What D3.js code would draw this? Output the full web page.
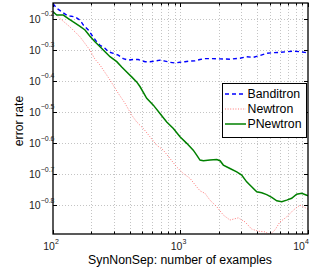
<!DOCTYPE html>
<html>
<head>
<meta charset="utf-8">
<script src="https://cdn.jsdelivr.net/npm/d3@7"></script>
<style>
  body { margin: 0; background: #fff; }
  svg { font-family: "Liberation Sans", Arial, sans-serif; display: block; }
</style>
</head>
<body>
<div id="chart"></div>
<script>
(function() {

    var width = 314;
    var height = 267;

    // log10(number of examples) and log10(error rate)
    var banditronLogN = [2.000, 2.029, 2.068, 2.107, 2.133, 2.173, 2.212, 2.238, 2.277, 2.304, 2.343, 2.369, 2.408, 2.434, 2.473, 2.512, 2.551, 2.591, 2.630, 2.669, 2.722, 2.761, 2.800, 2.839, 2.878, 2.918, 2.957, 2.996, 3.035, 3.075, 3.114, 3.153, 3.192, 3.247, 3.310, 3.388, 3.467, 3.519, 3.571, 3.624, 3.676, 3.728, 3.780, 3.833, 3.885, 3.937, 3.976, 4.000];
    var banditronLogErr = [-0.151, -0.166, -0.177, -0.188, -0.191, -0.194, -0.204, -0.220, -0.236, -0.252, -0.274, -0.285, -0.295, -0.306, -0.311, -0.317, -0.328, -0.333, -0.331, -0.331, -0.338, -0.338, -0.336, -0.333, -0.336, -0.340, -0.342, -0.340, -0.338, -0.336, -0.335, -0.331, -0.328, -0.328, -0.329, -0.330, -0.327, -0.322, -0.324, -0.318, -0.311, -0.309, -0.308, -0.306, -0.304, -0.306, -0.308, -0.311];

    var newtronLogN = [2.000, 2.055, 2.133, 2.212, 2.290, 2.329, 2.369, 2.395, 2.447, 2.512, 2.565, 2.617, 2.656, 2.708, 2.761, 2.813, 2.865, 2.918, 2.970, 3.022, 3.075, 3.127, 3.153, 3.192, 3.231, 3.284, 3.336, 3.388, 3.453, 3.506, 3.558, 3.610, 3.663, 3.702, 3.741, 3.780, 3.833, 3.885, 3.937, 3.963, 4.000];
    var newtronLogErr = [-0.177, -0.199, -0.226, -0.258, -0.301, -0.330, -0.349, -0.365, -0.397, -0.440, -0.472, -0.510, -0.532, -0.553, -0.580, -0.607, -0.623, -0.650, -0.677, -0.698, -0.714, -0.741, -0.754, -0.762, -0.784, -0.805, -0.832, -0.848, -0.841, -0.854, -0.877, -0.884, -0.886, -0.895, -0.880, -0.854, -0.838, -0.816, -0.800, -0.805, -0.813];

    var pnewtronLogN = [2.000, 2.029, 2.081, 2.120, 2.159, 2.212, 2.251, 2.290, 2.329, 2.369, 2.408, 2.447, 2.500, 2.539, 2.578, 2.617, 2.656, 2.682, 2.735, 2.787, 2.839, 2.892, 2.944, 2.996, 3.049, 3.100, 3.127, 3.153, 3.179, 3.231, 3.284, 3.310, 3.336, 3.388, 3.441, 3.480, 3.519, 3.558, 3.598, 3.637, 3.676, 3.716, 3.755, 3.794, 3.833, 3.872, 3.911, 3.951, 3.990, 4.000];
    var pnewtronLogErr = [-0.177, -0.188, -0.188, -0.199, -0.210, -0.224, -0.236, -0.256, -0.274, -0.290, -0.306, -0.322, -0.338, -0.355, -0.371, -0.387, -0.403, -0.418, -0.456, -0.478, -0.505, -0.532, -0.553, -0.580, -0.601, -0.623, -0.639, -0.655, -0.657, -0.655, -0.653, -0.657, -0.671, -0.682, -0.693, -0.703, -0.725, -0.741, -0.757, -0.760, -0.766, -0.775, -0.786, -0.789, -0.784, -0.778, -0.765, -0.762, -0.768, -0.770];

    var seriesNames = ["Banditron", "Newtron", "PNewtron"];
    var xTickExps = [2, 3, 4];
    var yTickExps = [-0.2, -0.3, -0.4, -0.5, -0.6, -0.7, -0.8];
    var xLabel = "SynNonSep: number of examples";
    var yLabel = "error rate";

    var left = 53, right = 308, top = 3, bottom = 234;

    var x = d3.scaleLog().domain([100, 10000]).range([left, right]);
    var y = d3.scaleLog().domain([Math.pow(10, -0.893), Math.pow(10, -0.149)]).range([bottom, top]);

    function toPoints(logN, logErr) {
        return logN.map(function (d, i) {
            return [Math.pow(10, d), Math.pow(10, logErr[i])];
        });
    }

    var series = [
        {name: seriesNames[0], pts: toPoints(banditronLogN, banditronLogErr), color: "#0000ff", width: 1.4, dash: "4,3"},
        {name: seriesNames[1], pts: toPoints(newtronLogN, newtronLogErr), color: "#ff5555", width: 0.8, dash: "1,1.6"},
        {name: seriesNames[2], pts: toPoints(pnewtronLogN, pnewtronLogErr), color: "#008000", width: 1.5, dash: null}
    ];

    var svg = d3.select("#chart").append("svg")
        .attr("width", width)
        .attr("height", height);

    svg.append("rect").attr("width", width).attr("height", height).attr("fill", "#fff");

    svg.append("clipPath").attr("id", "clip")
        .append("rect")
        .attr("x", left).attr("y", top)
        .attr("width", right - left).attr("height", bottom - top);

    // grid
    var xGrid = [];
    [100, 1000].forEach(function (dec) {
        for (var k = 1; k < 10; k++) xGrid.push(dec * k);
    });
    xGrid.push(10000);

    var grid = svg.append("g").attr("stroke", "#aaa").attr("stroke-width", 0.7).attr("stroke-dasharray", "1,2");
    grid.selectAll(".vg").data(xGrid.slice(1, -1)).enter().append("line")
        .attr("x1", function (d) { return Math.round(x(d)) + 0.5; })
        .attr("x2", function (d) { return Math.round(x(d)) + 0.5; })
        .attr("y1", top).attr("y2", bottom);
    grid.selectAll(".hg").data(yTickExps).enter().append("line")
        .attr("x1", left).attr("x2", right)
        .attr("y1", function (d) { return Math.round(y(Math.pow(10, d))) + 0.5; })
        .attr("y2", function (d) { return Math.round(y(Math.pow(10, d))) + 0.5; });

    // tick marks
    var ticks = svg.append("g").attr("stroke", "#000").attr("stroke-width", 1);
    xGrid.forEach(function (d) {
        var major = [100, 1000, 10000].indexOf(d) >= 0;
        var len = major ? 4 : 2.5;
        var px = Math.round(x(d)) + 0.5;
        ticks.append("line").attr("x1", px).attr("x2", px).attr("y1", bottom).attr("y2", bottom - len);
        ticks.append("line").attr("x1", px).attr("x2", px).attr("y1", top).attr("y2", top + len);
    });
    yTickExps.forEach(function (d) {
        var py = Math.round(y(Math.pow(10, d))) + 0.5;
        ticks.append("line").attr("x1", left).attr("x2", left + 4).attr("y1", py).attr("y2", py);
        ticks.append("line").attr("x1", right).attr("x2", right - 4).attr("y1", py).attr("y2", py);
    });

    // lines
    var line = d3.line()
        .x(function (d) { return x(d[0]); })
        .y(function (d) { return y(d[1]); });

    var plot = svg.append("g").attr("clip-path", "url(#clip)");
    series.forEach(function (s) {
        plot.append("path")
            .datum(s.pts)
            .attr("fill", "none")
            .attr("stroke", s.color)
            .attr("stroke-width", s.width)
            .attr("stroke-dasharray", s.dash)
            .attr("d", line);
    });

    // frame
    svg.append("rect")
        .attr("x", left).attr("y", top)
        .attr("width", right - left).attr("height", bottom - top)
        .attr("fill", "none").attr("stroke", "#000").attr("stroke-width", 1.3);

    // y tick labels
    yTickExps.forEach(function (d) {
        var t = svg.append("text")
            .attr("x", 29)
            .attr("y", y(Math.pow(10, d)) + 4)
            .attr("font-size", 10.5)
            .attr("fill", "#222");
        t.append("tspan").text("10");
        t.append("tspan").attr("dy", -6.5).attr("font-size", 7).text("\u2212" + Math.abs(d).toFixed(1));
    });

    // x tick labels
    xTickExps.forEach(function (d) {
        var cx = Math.min(x(Math.pow(10, d)) - 2, 301);
        var t = svg.append("text")
            .attr("x", cx)
            .attr("y", 250)
            .attr("text-anchor", "middle")
            .attr("font-size", 10.5)
            .attr("fill", "#222");
        t.append("tspan").text("10");
        t.append("tspan").attr("dy", -6).attr("font-size", 7).text(d);
    });

    // axis labels
    svg.append("text")
        .attr("x", 180).attr("y", 264)
        .attr("text-anchor", "middle")
        .attr("font-size", 12.3)
        .text(xLabel);

    svg.append("text")
        .attr("transform", "translate(23,121) rotate(-90)")
        .attr("text-anchor", "middle")
        .attr("font-size", 12.3)
        .text(yLabel);

    // legend
    var lg = svg.append("g");
    lg.append("rect")
        .attr("x", 222.5).attr("y", 83.5)
        .attr("width", 84).attr("height", 54)
        .attr("fill", "#fff").attr("stroke", "#000").attr("stroke-width", 1);
    var rowY = [94, 109, 124];
    series.forEach(function (s, i) {
        lg.append("line")
            .attr("x1", 225).attr("x2", 246)
            .attr("y1", rowY[i]).attr("y2", rowY[i])
            .attr("stroke", s.color)
            .attr("stroke-width", s.width)
            .attr("stroke-dasharray", s.dash);
        lg.append("text")
            .attr("x", 247.5).attr("y", rowY[i] + 4.3)
            .attr("font-size", 12.3)
            .text(s.name);
    });
})();
</script>
</body>
</html>
